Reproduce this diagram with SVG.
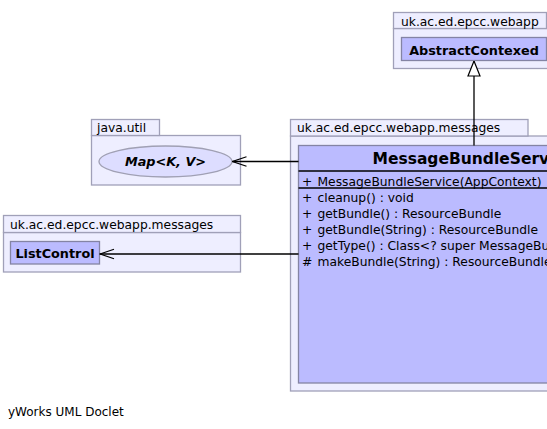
<svg xmlns="http://www.w3.org/2000/svg" width="547" height="429" viewBox="0 0 547 429">
<defs>
<style>
.pkg{fill:#eeeeff;stroke:#a0a0b8;stroke-width:1.3}
.cls{fill:#bbbbff;stroke:#8484a4;stroke-width:1.3}
.ell{fill:#ddddff;stroke:#a0a0b4;stroke-width:1.3}
.sep{stroke:#000;stroke-width:1.3}
.t{font-family:"DejaVu Sans",sans-serif;font-size:12.3px;fill:#000}
.b{font-family:"DejaVu Sans",sans-serif;font-size:12.8px;font-weight:bold;fill:#000}
.ti{font-family:"DejaVu Sans",sans-serif;font-size:15.5px;font-weight:bold;fill:#000}
.bi{font-family:"DejaVu Sans",sans-serif;font-size:12.8px;font-weight:bold;font-style:italic;fill:#000}
.edge{stroke:#000;stroke-width:1.3;fill:none}
</style>
<marker id="open" markerWidth="16" markerHeight="12" refX="15" refY="6" orient="auto" markerUnits="userSpaceOnUse">
<path d="M1,1.2 L15,6 L1,10.8" fill="none" stroke="#000" stroke-width="1.2"/>
</marker>
<marker id="tri" markerWidth="16" markerHeight="18" refX="8" refY="0.5" orient="0" markerUnits="userSpaceOnUse">
<path d="M8,0.5 L14,15.5 L2,15.5 Z" fill="#fff" stroke="#000" stroke-width="1.2"/>
</marker>
</defs>

<g id="pkg-webapp">
<rect class="pkg" x="393.5" y="28.5" width="170" height="40"/>
<rect class="pkg" x="393.5" y="12.5" width="153" height="16"/>
<text class="t" x="401" y="26">uk.ac.ed.epcc.webapp</text>
</g>
<g id="AbstractContexed">
<rect class="cls" x="401.5" y="37.5" width="145" height="23"/>
<text class="b" x="474" y="54.5" text-anchor="middle">AbstractContexed</text>
</g>

<g id="pkg-java-util">
<rect class="pkg" x="91.5" y="135.5" width="149" height="49.5"/>
<rect class="pkg" x="91.5" y="119.5" width="68" height="16"/>
<text class="t" x="97" y="131.5">java.util</text>
</g>
<g id="Map">
<ellipse class="ell" cx="165.5" cy="161.5" rx="66.5" ry="15.5"/>
<text class="bi" x="165.5" y="166" text-anchor="middle">Map&lt;K, V&gt;</text>
</g>

<g id="pkg-messages-left">
<rect class="pkg" x="3.5" y="232.5" width="237" height="39.5"/>
<rect class="pkg" x="3.5" y="215.5" width="237" height="17"/>
<text class="t" x="10" y="229">uk.ac.ed.epcc.webapp.messages</text>
</g>
<g id="ListControl">
<rect class="cls" x="10.5" y="241.5" width="89" height="22.5"/>
<text class="b" x="55" y="257.5" text-anchor="middle">ListControl</text>
</g>

<g id="pkg-messages">
<rect class="pkg" x="290.5" y="136" width="280" height="255"/>
<rect class="pkg" x="290.5" y="119.5" width="237.5" height="16.5"/>
<text class="t" x="297" y="132">uk.ac.ed.epcc.webapp.messages</text>
</g>
<g id="MessageBundleService">
<rect class="cls" x="298.5" y="145.5" width="260" height="237.5"/>
<text class="ti" x="372.5" y="164">MessageBundleService</text>
<line class="sep" x1="298.5" y1="171" x2="560" y2="171"/>
<text class="t" x="302" y="185.5">+</text>
<text class="t" x="317.5" y="185.5">MessageBundleService(AppContext)</text>
<line class="sep" x1="298.5" y1="188" x2="560" y2="188"/>
<text class="t" x="302" y="201.5">+</text>
<text class="t" x="317.5" y="201.5">cleanup() : void</text>
<text class="t" x="302" y="217.5">+</text>
<text class="t" x="317.5" y="217.5">getBundle() : ResourceBundle</text>
<text class="t" x="302" y="233.5">+</text>
<text class="t" x="317.5" y="233.5">getBundle(String) : ResourceBundle</text>
<text class="t" x="302" y="249.5">+</text>
<text class="t" x="317.5" y="249.5">getType() : Class&lt;? super MessageBundleService&gt;</text>
<text class="t" x="302" y="265.5">#</text>
<text class="t" x="317.5" y="265.5">makeBundle(String) : ResourceBundle</text>
</g>

<g id="connectors">
<line class="edge" x1="474" y1="145.5" x2="474" y2="61" marker-end="url(#tri)"/>
<line class="edge" x1="298.5" y1="161.5" x2="232.5" y2="161.5" marker-end="url(#open)"/>
<line class="edge" x1="298.5" y1="254" x2="100" y2="254" marker-end="url(#open)"/>
</g>

<text class="t" x="8" y="415.5" style="font-size:12px">yWorks UML Doclet</text>
</svg>
